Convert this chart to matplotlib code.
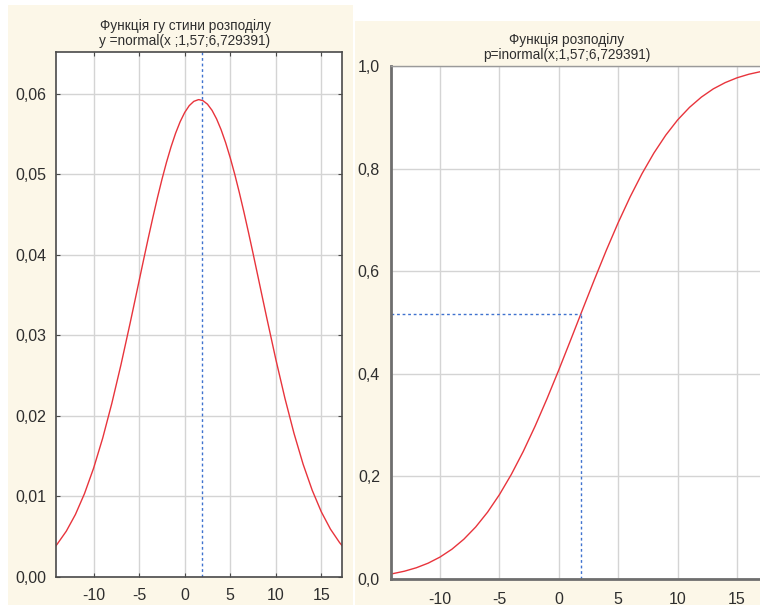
import numpy as np
import matplotlib
matplotlib.use("Agg")
import matplotlib.pyplot as plt
from matplotlib.patches import Rectangle
import matplotlib.ticker as mtick

plt.rcParams['font.family'] = ['Liberation Sans', 'DejaVu Sans']
plt.rcParams['axes.unicode_minus'] = False

# values
pdf_x = [-14.2, -14, -13, -12, -11, -10, -9, -8, -7, -6, -5.5, -5, -4.5, -4, -3.5,
         -3, -2.5, -2, -1.5, -1, -0.5, 0, 0.5, 1, 1.5, 1.57, 2, 2.5, 3, 3.5, 4, 4.5,
         5, 5.5, 6, 6.5, 7, 7.5, 8, 8.5, 9, 10, 11, 12, 13, 14, 15, 16, 17, 17.4]
density = [0.00380, 0.00408, 0.00569, 0.00776, 0.01036, 0.01352, 0.01726, 0.02157,
           0.02635, 0.03149, 0.03414, 0.03681, 0.03947, 0.04209, 0.04463,
           0.04707, 0.04937, 0.05150, 0.05342, 0.05511, 0.05654, 0.05769, 0.05854,
           0.05907, 0.05928, 0.05928, 0.05916, 0.05872, 0.05796, 0.05689, 0.05554,
           0.05392, 0.05206, 0.04999, 0.04773, 0.04533, 0.04281, 0.04021, 0.03755,
           0.03488, 0.03223, 0.02705, 0.02221, 0.01784, 0.01401, 0.01077, 0.00809,
           0.00595, 0.00428, 0.00373]

cdf_x = [-14.2, -14, -13, -12, -11, -10, -9, -8, -7, -6, -5, -4, -3, -2, -1, 0,
         1, 2, 3, 4, 5, 6, 7, 8, 9, 10, 11, 12, 13, 14, 15, 16, 17, 17.4]
cumulative = [0.0096, 0.0103, 0.0152, 0.0219, 0.0309, 0.0428, 0.0581, 0.0775,
              0.1014, 0.1303, 0.1645, 0.2039, 0.2485, 0.2979, 0.3513, 0.4078,
              0.4663, 0.5255, 0.5841, 0.6410, 0.6949, 0.7448, 0.7901, 0.8303,
              0.8652, 0.8949, 0.9194, 0.9394, 0.9554, 0.9676, 0.9770, 0.9840,
              0.9891, 0.9907]
marker_x = 1.85
marker_p = 0.5166

x_ticks = [-10, -5, 0, 5, 10, 15]
pdf_ticks = [0.00, 0.01, 0.02, 0.03, 0.04, 0.05, 0.06]
cdf_ticks = [0.0, 0.2, 0.4, 0.6, 0.8, 1.0]

left_title = "Функція гу стини розподілу\ny =normal(x ;1,57;6,729391)"
right_title = "Функція розподілу\np=inormal(x;1,57;6,729391)"

xlim = (-14.13, 17.27)
red = '#e8343c'
blue = '#3f72cf'
grid_c = '#d4d4d4'
text_c = '#2e2e2e'
cream = '#fcf7e8'

fig = plt.figure(figsize=(7.6, 6.05), dpi=100, facecolor='white')
fig.patches.append(Rectangle((8 / 760, 0), 345 / 760, 600 / 605, transform=fig.transFigure,
                             facecolor=cream, edgecolor='none', zorder=-10))
fig.patches.append(Rectangle((355 / 760, 0), 405 / 760, 584 / 605, transform=fig.transFigure,
                             facecolor=cream, edgecolor='none', zorder=-10))


def comma(fmt):
    return mtick.FuncFormatter(lambda v, p: (fmt % v).replace('.', ','))


# density panel
ax1 = fig.add_axes([56 / 760, 28 / 605, 286 / 760, 525 / 605])
ax1.plot(pdf_x, density, color=red, lw=1.0)
ax1.axvline(marker_x, color=blue, lw=1.0, linestyle=(0, (2, 2)))
ax1.set_xlim(*xlim)
ax1.set_ylim(0, 0.0652)
ax1.set_xticks(x_ticks)
ax1.set_yticks(pdf_ticks)
ax1.yaxis.set_major_formatter(comma('%.2f'))
ax1.grid(True, color=grid_c, lw=1.0)
ax1.set_axisbelow(True)
for s in ax1.spines.values():
    s.set_color('#4a4a4a')
    s.set_linewidth(1.2)
ax1.tick_params(axis='both', direction='in', length=3, color='#4a4a4a',
                top=True, right=True, labelsize=11.5, labelcolor=text_c)
ax1.tick_params(axis='x', pad=8)
ax1.tick_params(axis='y', pad=7)
ax1.set_title(left_title, fontsize=9.8, color=text_c, pad=5, linespacing=1.1,
              x=0.451)

# cumulative panel
ax2 = fig.add_axes([391 / 760, 26 / 605, 373 / 760, 513 / 605])
ax2.plot(cdf_x, cumulative, color=red, lw=1.0)
ax2.plot([marker_x, marker_x], [0, marker_p], color=blue, lw=1.0, linestyle=(0, (2, 2)))
ax2.plot([xlim[0], marker_x], [marker_p, marker_p], color=blue, lw=1.0, linestyle=(0, (2, 2)))
ax2.set_xlim(*xlim)
ax2.set_ylim(0, 1.0)
ax2.set_xticks(x_ticks)
ax2.set_yticks(cdf_ticks)
ax2.yaxis.set_major_formatter(comma('%.1f'))
ax2.grid(True, color=grid_c, lw=1.0)
ax2.set_axisbelow(True)
for side in ['left', 'bottom']:
    ax2.spines[side].set_color('#6e6e6e')
    ax2.spines[side].set_linewidth(2.0)
ax2.spines['top'].set_color('#9a9a9a')
ax2.spines['top'].set_linewidth(1.0)
ax2.spines['right'].set_visible(False)
ax2.tick_params(axis='both', length=0, labelsize=11.5, labelcolor=text_c)
ax2.tick_params(axis='x', pad=9)
ax2.tick_params(axis='y', pad=8)
ax2.set_title(right_title, fontsize=9.8, color=text_c, pad=5, linespacing=1.1,
              x=0.472)

fig.savefig('out.png', dpi=100, facecolor='white')
